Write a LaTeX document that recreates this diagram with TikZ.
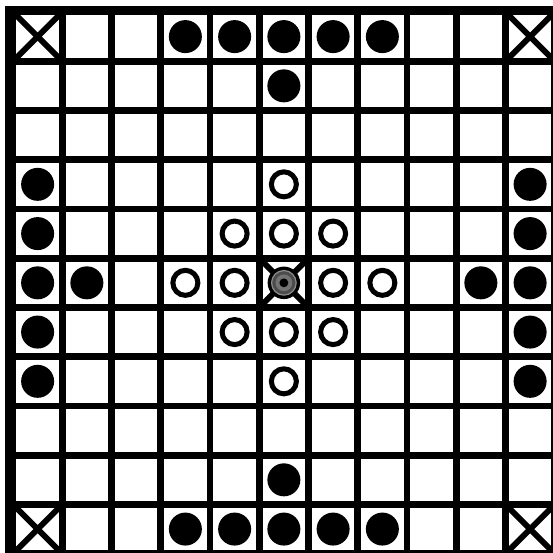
\documentclass[tikz,border=0pt]{standalone}
\usepackage{tikz}

\begin{document}
\begin{tikzpicture}[x=1cm,y=-1cm,
  blackstone/.style={fill=black},
  whitestone/.style={draw=black,line width=2.9pt,fill=white},
  markline/.style={line width=3.4pt}]
\useasboundingbox (-0.264,-0.243) rectangle (10.965,10.97);
\clip (-0.264,-0.243) rectangle (10.965,10.97);
\fill[white] (-0.264,-0.243) rectangle (10.965,10.97);
% frame and grid
\fill[black] (-0.165,-0.125) rectangle (11.2,11.2);
\foreach \i in {0,...,10}
  \foreach \j in {0,...,10}
    \fill[white] (\i+0.068,\j+0.068) rectangle (\i+0.932,\j+0.932);
% corners and throne
\foreach \i/\j in {0/0,10/0,0/10,10/10,5/5}
  \draw[markline] (\i,\j) -- (\i+1,\j+1) (\i+1,\j) -- (\i,\j+1);
% attackers
\foreach \i/\j in {3/0,4/0,5/0,6/0,7/0,5/1,
                   3/10,4/10,5/10,6/10,7/10,5/9,
                   0/3,0/4,0/5,0/6,0/7,1/5,
                   10/3,10/4,10/5,10/6,10/7,9/5}
  \fill[blackstone] (\i+0.5,\j+0.5) circle (0.335);
% defenders
\foreach \i/\j in {5/3,4/4,5/4,6/4,3/5,4/5,6/5,7/5,4/6,5/6,6/6,5/7}
  \draw[whitestone] (\i+0.5,\j+0.5) circle (0.254);
% king
\fill[black] (5.5,5.5) circle (0.33);
\filldraw[fill=black!70,draw=black!45,line width=0.7pt] (5.5,5.5) circle (0.25);
\fill[black!55] (5.5,5.5) circle (0.17);
\fill[black] (5.5,5.5) circle (0.09);
\end{tikzpicture}
\end{document}
